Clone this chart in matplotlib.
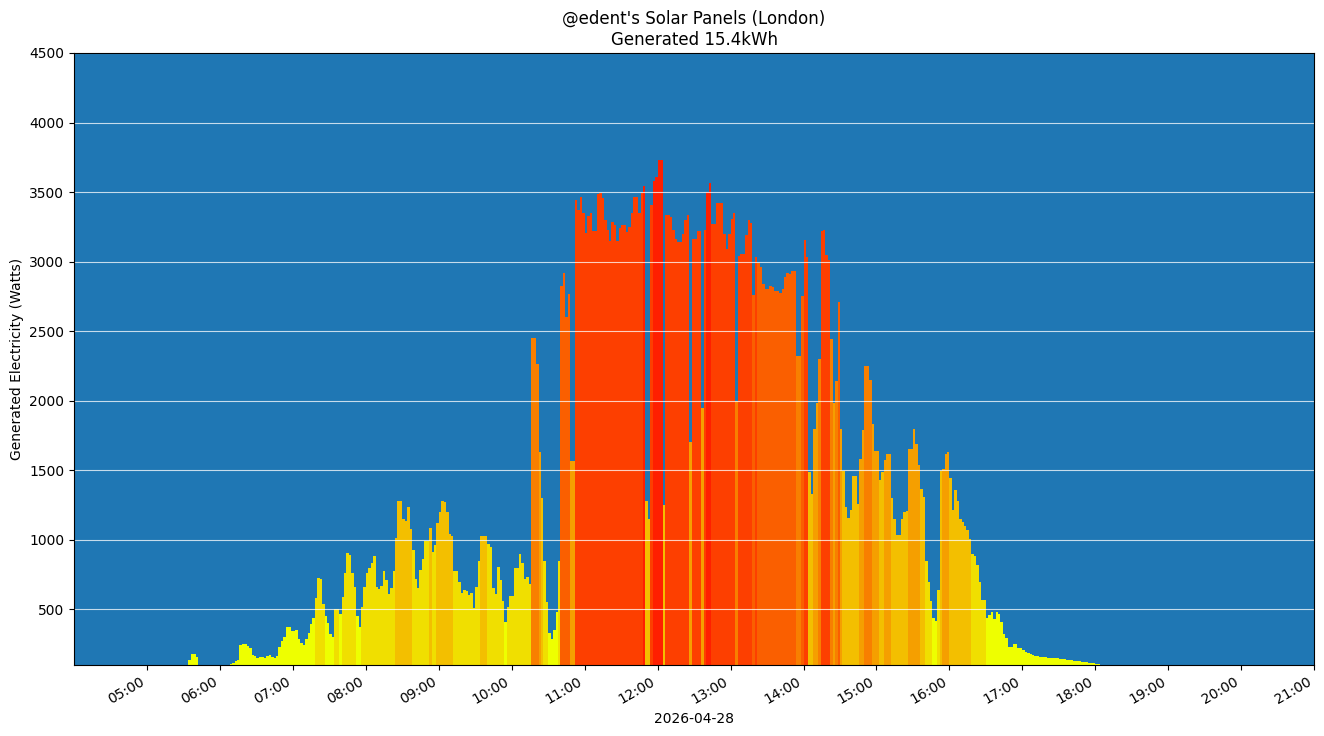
import datetime as dt
import numpy as np
import matplotlib
matplotlib.use("Agg")
import matplotlib.pyplot as plt
import matplotlib.dates as mdates

day = dt.datetime(2026, 4, 28)
first_reading = day + dt.timedelta(hours=5, minutes=30)
step_minutes = 2

# generated watts, one value per 2 minutes
watts_05 = [0, 0, 135, 178, 178, 160, 0, 0, 0, 0, 0, 0, 0, 0, 0]  # from 05:30
watts_06 = [0, 0, 0, 0, 105, 115, 130, 135, 245, 252, 252, 240, 225, 172, 162,
            150, 157, 158, 152, 168, 170, 158, 148, 165, 230, 270, 300, 375, 376, 345]
watts_07 = [341, 355, 285, 255, 245, 288, 330, 393, 440, 580, 723, 720, 540, 450, 400,
            320, 300, 505, 505, 470, 590, 760, 903, 890, 760, 660, 450, 375, 520, 660]
watts_08 = [760, 795, 830, 880, 660, 645, 670, 773, 712, 610, 655, 773, 1010, 1277, 1277,
            1150, 1135, 1235, 1080, 925, 715, 650, 785, 860, 990, 990, 1083, 912, 963, 1120]
watts_09 = [1200, 1280, 1270, 1200, 1040, 1025, 775, 775, 700, 614, 642, 635, 600, 614, 510,
            660, 850, 1025, 1030, 1030, 970, 950, 650, 610, 805, 712, 560, 410, 520, 593]
watts_10 = [595, 800, 800, 900, 830, 720, 730, 680, 2450, 2450, 2263, 1630, 1300, 845, 550,
            330, 290, 350, 480, 850, 2826, 2917, 2603, 2766, 1570, 1570, 3442, 3370, 3464, 3350]
watts_11 = [3204, 3330, 3348, 3220, 3220, 3485, 3490, 3458, 3300, 3225, 3150, 3286, 3260, 3150, 3240,
            3262, 3262, 3215, 3250, 3351, 3465, 3465, 3349, 3495, 3543, 1280, 1150, 3406, 3580, 3610]
watts_12 = [3730, 3730, 1248, 3337, 3337, 3320, 3230, 3160, 3138, 3138, 3200, 3300, 3335, 1700, 3160,
            3160, 3220, 3220, 1946, 3225, 3500, 3567, 3270, 3270, 3423, 3423, 3423, 3200, 3090, 3200]
watts_13 = [3310, 3351, 2000, 3040, 3055, 3055, 3195, 3300, 3280, 2760, 3035, 2990, 2963, 2840, 2804,
            2804, 2828, 2820, 2790, 2790, 2775, 2800, 2890, 2915, 2912, 2929, 2929, 2320, 2320, 2750]
watts_14 = [3155, 3035, 1490, 1330, 1800, 1982, 2300, 3217, 3230, 3050, 3010, 2442, 1982, 2140, 2709,
            1800, 1495, 1236, 1160, 1212, 1457, 1457, 1255, 1579, 1788, 2253, 2253, 2150, 1836, 1637]
watts_15 = [1637, 1428, 1486, 1572, 1620, 1620, 1300, 1150, 1032, 1032, 1150, 1200, 1205, 1651, 1651,
            1800, 1687, 1536, 1363, 1306, 845, 700, 560, 435, 414, 637, 1495, 1512, 1615, 1630]
watts_16 = [1442, 1212, 1355, 1276, 1147, 1125, 1101, 1068, 1008, 896, 887, 817, 694, 565, 565,
            440, 460, 483, 430, 483, 470, 406, 320, 296, 227, 227, 248, 248, 220, 220]
watts_17 = [205, 196, 187, 176, 170, 165, 166, 160, 158, 155, 153, 153, 149, 148, 148,
            145, 141, 141, 137, 134, 134, 131, 127, 127, 124, 120, 120, 116, 113, 112]
watts_18 = [106, 104]

# colour per 500W band
band_edges = [500, 1000, 1500, 2000, 2500, 3000, 3500]
band_colours = ["#eeff00", "#f0df00", "#f3bf00", "#f59f00",
                "#f87f00", "#fa5f00", "#fd3f00", "#ff1f00"]

total_kwh = 15.4

if __name__ == "__main__":
    watts = np.array(watts_05 + watts_06 + watts_07 + watts_08 + watts_09 + watts_10 + watts_11
                     + watts_12 + watts_13 + watts_14 + watts_15 + watts_16 + watts_17 + watts_18)
    times = [first_reading + dt.timedelta(minutes=step_minutes * i) for i in range(len(watts))]
    colours = [band_colours[i] for i in np.digitize(watts, band_edges)]

    fig, ax = plt.subplots(figsize=(13.24, 7.36), dpi=100)
    fig.subplots_adjust(left=0.056, right=0.9925, top=0.928, bottom=0.0965)

    ax.set_facecolor("#1f77b4")
    ax.bar(times, watts, width=step_minutes / 1440, align="edge", color=colours, linewidth=0)

    ax.set_ylim(100, 4500)
    ax.set_xlim(day + dt.timedelta(hours=4), day + dt.timedelta(hours=21))
    ax.set_xticks([day + dt.timedelta(hours=h) for h in range(5, 22)])
    ax.xaxis.set_major_formatter(mdates.DateFormatter("%H:%M"))
    plt.setp(ax.get_xticklabels(), rotation=30, ha="right")

    # grid over the bars, frame over the grid
    ax.grid(axis="y", color="white", alpha=0.75, linewidth=0.8)
    ax.set_axisbelow(False)
    for spine in ax.spines.values():
        spine.set_zorder(3)

    ax.set_title("@edent's Solar Panels (London)\nGenerated %.1fkWh" % total_kwh)
    ax.set_ylabel("Generated Electricity (Watts)")
    ax.set_xlabel(day.strftime("%Y-%m-%d"))

    plt.savefig("out.png")
